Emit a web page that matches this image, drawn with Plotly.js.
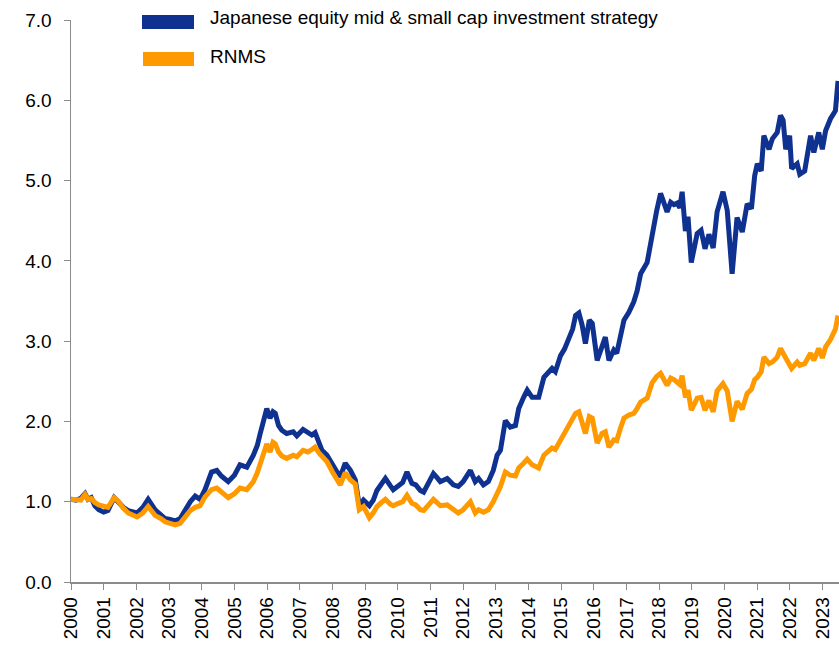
<!DOCTYPE html>
<html>
<head>
<meta charset="utf-8">
<script src="https://cdn.plot.ly/plotly-3.0.1.min.js"></script>
<style>
html,body{margin:0;padding:0;background:#fff;}
#chart{width:839px;height:646px;}
</style>
</head>
<body>
<div id="chart"></div>
<script>
// Time in decimal years
const t = [
2000.00,2000.15,2000.30,2000.43,2000.52,2000.62,2000.73,2000.85,2001.00,2001.13,
2001.32,2001.44,2001.60,2001.75,2002.02,2002.20,2002.36,2002.57,2002.75,2002.88,
2003.03,2003.19,2003.34,2003.49,2003.65,2003.80,2003.95,2004.10,2004.20,2004.30,
2004.46,2004.60,2004.81,2005.00,2005.17,2005.38,2005.58,2005.70,2005.79,2005.92,
2005.99,2006.09,2006.18,2006.25,2006.35,2006.45,2006.60,2006.80,2006.91,2007.10,
2007.25,2007.37,2007.47,2007.60,2007.68,2007.83,2008.00,2008.14,2008.24,2008.39,
2008.55,2008.70,2008.82,2008.95,2009.13,2009.25,2009.36,2009.50,2009.62,2009.77,
2009.86,2010.02,2010.15,2010.28,2010.43,2010.55,2010.69,2010.79,2010.95,2011.09,
2011.20,2011.30,2011.51,2011.70,2011.85,2012.00,2012.22,2012.37,2012.47,2012.62,
2012.77,2012.92,2013.04,2013.14,2013.29,2013.44,2013.60,2013.70,2013.85,2013.96,
2014.11,2014.31,2014.47,2014.62,2014.72,2014.82,2014.98,2015.10,2015.23,2015.35,
2015.44,2015.54,2015.64,2015.74,2015.86,2015.95,2016.10,2016.25,2016.35,2016.46,
2016.61,2016.70,2016.80,2016.92,2017.07,2017.22,2017.32,2017.43,2017.63,2017.78,
2017.92,2018.04,2018.24,2018.35,2018.45,2018.55,2018.63,2018.70,2018.80,2018.88,
2018.98,2019.08,2019.16,2019.28,2019.40,2019.52,2019.65,2019.77,2019.95,2020.08,
2020.23,2020.38,2020.54,2020.69,2020.82,2020.92,2021.00,2021.12,2021.20,2021.36,
2021.46,2021.61,2021.71,2021.79,2021.87,2021.99,2022.05,2022.22,2022.30,2022.45,
2022.63,2022.73,2022.88,2022.99,2023.09,2023.24,2023.39,2023.47
];
// Japanese equity mid & small cap investment strategy
const strategy = [
1.03,1.02,1.04,1.10,1.03,1.05,0.95,0.90,0.87,0.89,
1.05,1.00,0.93,0.89,0.86,0.93,1.03,0.90,0.83,0.79,
0.78,0.76,0.79,0.90,1.00,1.07,1.03,1.15,1.25,1.37,
1.39,1.32,1.25,1.33,1.46,1.43,1.58,1.70,1.85,2.08,
2.16,2.04,2.12,2.10,1.95,1.89,1.85,1.87,1.82,1.90,
1.87,1.83,1.86,1.72,1.64,1.58,1.45,1.37,1.31,1.48,
1.39,1.27,0.95,1.02,0.95,1.02,1.14,1.22,1.29,1.20,
1.15,1.20,1.24,1.37,1.23,1.21,1.14,1.12,1.25,1.35,
1.30,1.25,1.29,1.21,1.19,1.25,1.39,1.25,1.29,1.21,
1.25,1.39,1.58,1.64,2.01,1.93,1.95,2.16,2.30,2.39,
2.30,2.30,2.55,2.62,2.66,2.62,2.82,2.90,3.05,3.15,
3.32,3.35,3.20,2.97,3.26,3.22,2.76,2.93,3.05,2.76,
2.89,2.85,3.05,3.26,3.36,3.49,3.62,3.84,3.98,4.34,
4.62,4.84,4.61,4.73,4.70,4.72,4.66,4.86,4.37,4.55,
3.98,4.18,4.34,4.38,4.15,4.33,4.16,4.61,4.86,4.63,
3.84,4.54,4.36,4.71,4.65,5.06,5.21,5.12,5.56,5.39,
5.52,5.60,5.81,5.75,5.39,5.56,5.15,5.21,5.08,5.12,
5.56,5.35,5.60,5.39,5.62,5.77,5.87,6.24
];
// RNMS
const rnms = [
1.03,1.03,1.02,1.09,1.03,1.04,0.99,0.96,0.94,0.93,
1.05,1.01,0.92,0.86,0.81,0.86,0.94,0.83,0.79,0.75,
0.73,0.71,0.73,0.82,0.89,0.93,0.95,1.06,1.10,1.15,
1.17,1.12,1.05,1.10,1.17,1.15,1.25,1.36,1.48,1.66,
1.72,1.62,1.74,1.72,1.62,1.57,1.54,1.58,1.56,1.64,
1.62,1.65,1.68,1.60,1.57,1.50,1.37,1.29,1.21,1.36,
1.27,1.22,0.90,0.94,0.80,0.86,0.94,0.99,1.03,0.97,
0.95,0.98,1.00,1.08,0.98,0.96,0.90,0.89,0.96,1.03,
0.99,0.95,0.96,0.90,0.86,0.90,1.00,0.86,0.90,0.87,
0.90,1.00,1.11,1.19,1.37,1.33,1.32,1.42,1.48,1.53,
1.46,1.42,1.58,1.63,1.67,1.65,1.77,1.85,1.95,2.02,
2.10,2.12,2.00,1.85,2.06,2.04,1.73,1.85,1.87,1.68,
1.77,1.76,1.90,2.04,2.08,2.10,2.16,2.24,2.29,2.48,
2.56,2.60,2.45,2.54,2.52,2.48,2.46,2.57,2.30,2.39,
2.14,2.22,2.29,2.30,2.14,2.26,2.12,2.38,2.47,2.38,
2.00,2.25,2.15,2.35,2.40,2.52,2.55,2.62,2.80,2.72,
2.74,2.80,2.91,2.85,2.79,2.70,2.66,2.74,2.70,2.72,
2.85,2.76,2.91,2.79,2.93,3.02,3.15,3.32
];
const yearTicks = [2000,2001,2002,2003,2004,2005,2006,2007,2008,2009,2010,2011,2012,2013,2014,2015,2016,2017,2018,2019,2020,2021,2022,2023];
const yearLabels = yearTicks.map(String);
const seriesNames = ['Japanese equity mid & small cap investment strategy','RNMS'];
const colors = ['#0F3290','#FF9900'];

const traces = [
  {x:t, y:strategy, name:seriesNames[0], type:'scatter', mode:'lines', line:{color:colors[0], width:5}, showlegend:false},
  {x:t, y:rnms, name:seriesNames[1], type:'scatter', mode:'lines', line:{color:colors[1], width:5}, showlegend:false}
];

const font = {family:'"Liberation Sans", Arial, sans-serif', size:19, color:'#000'};
const layout = {
  width:839, height:646,
  margin:{l:71, r:0, t:20, b:64},
  paper_bgcolor:'#fff', plot_bgcolor:'#fff',
  font:font,
  showlegend:false,
  xaxis:{range:[2000,2023.5], tickvals:yearTicks, ticktext:yearLabels, tickangle:-90,
         ticks:'outside', ticklen:6, tickcolor:'#8c8c8c', showline:true, linecolor:'#8c8c8c', linewidth:1.5,
         showgrid:false, zeroline:false, tickfont:font},
  yaxis:{range:[0,7], dtick:1, tick0:0, tickformat:'.1f', ticks:'outside', ticklen:6, tickcolor:'#8c8c8c',
         showline:true, linecolor:'#8c8c8c', linewidth:1.5, showgrid:false, zeroline:false, tickfont:font,
         ticklabelstandoff:8},
  shapes:[
    {type:'rect', xref:'paper', yref:'paper', x0:(142-71)/768, x1:(194-71)/768, y0:(582-29)/562, y1:(582-15)/562, fillcolor:colors[0], line:{width:0}},
    {type:'rect', xref:'paper', yref:'paper', x0:(143-71)/768, x1:(194-71)/768, y0:(582-66)/562, y1:(582-52)/562, fillcolor:colors[1], line:{width:0}}
  ],
  annotations:[
    {xref:'paper', yref:'paper', x:(208-71)/768, y:(582-18)/562, xanchor:'left', yanchor:'middle', text:seriesNames[0], showarrow:false, font:font},
    {xref:'paper', yref:'paper', x:(208-71)/768, y:(582-56)/562, xanchor:'left', yanchor:'middle', text:seriesNames[1], showarrow:false, font:font}
  ]
};
Plotly.newPlot('chart', traces, layout, {displayModeBar:false, staticPlot:true});
</script>
</body>
</html>
